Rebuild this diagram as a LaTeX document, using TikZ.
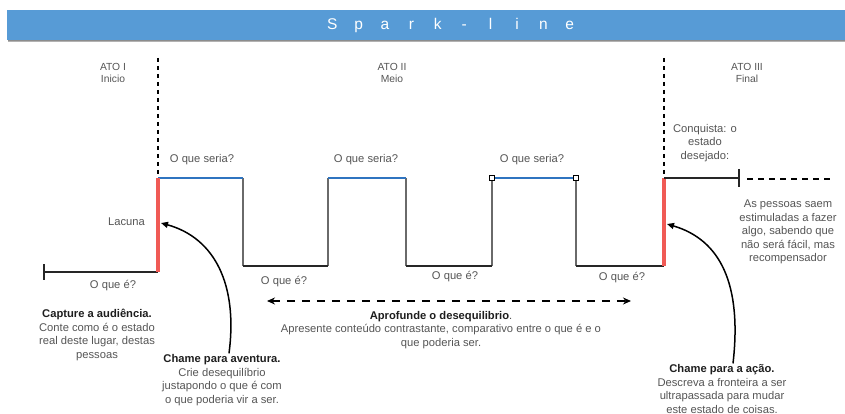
\documentclass[tikz,border=0pt]{standalone}
\usepackage{fontspec}
\setmainfont{Liberation Sans}
\usetikzlibrary{arrows.meta,calc}
\definecolor{banner}{HTML}{579BD6}
\definecolor{txt}{HTML}{555555}
\definecolor{hd}{HTML}{1E1E1E}
\definecolor{bluel}{HTML}{2F74C0}
\definecolor{redl}{HTML}{F05A55}
\definecolor{grayl}{HTML}{6A6A6A}
\newcommand\lt[1]{\makebox[26.4pt]{#1}}
\tikzset{
  lbl/.style={text=txt, font=\fontsize{11.2}{13.5}\selectfont, inner sep=0pt, align=center},
  hdr/.style={text=txt, font=\fontsize{10.3}{11.5}\selectfont, inner sep=0pt, align=center},
  base/.style={line width=1.8pt, black!85},
  riser/.style={line width=1.1pt, grayl},
  topl/.style={line width=2.4pt, bluel},
  gap/.style={line width=3.2pt, redl},
  actline/.style={line width=2.6pt, black, dash pattern=on 4pt off 4pt},
  endtick/.style={line width=1.6pt, black!85},
  callarrow/.style={line width=1.5pt, black, -{Triangle[length=7pt,width=6pt]}},
  handle/.style={draw=black, fill=white, line width=0.7pt, minimum size=5pt, inner sep=0pt},
}
\begin{document}
\begin{tikzpicture}[x=1pt,y=-1pt]
\useasboundingbox (0,0) rectangle (845,414);
% banner
\fill[black!30] (8,12) rectangle (845,42.5);
\fill[black!45] (8,40) rectangle (845,41.5);
\fill[banner] (7,10) rectangle (845,40);
\node[text=white, font=\fontsize{15.5}{15.5}\selectfont, inner sep=0pt] (title) at (451,25)
  {\lt{S}\lt{p}\lt{a}\lt{r}\lt{k}\lt{-}\lt{l}\lt{i}\lt{n}\lt{e}};
% act headers
\node[hdr] (act1) at (113,73) {ATO I\\Inicio};
\node[hdr] (act2) at (392,73) {ATO II\\Meio};
\node[hdr] (act3) at (747,73) {ATO III\\Final};
% coordinates of the line
\coordinate (s0) at (44,272);
\coordinate (g1b) at (158,272);
\coordinate (g1t) at (158,178);
\coordinate (a1) at (243,178);
\coordinate (a2) at (243,266);
\coordinate (b1) at (328,266);
\coordinate (b2) at (328,178);
\coordinate (c1) at (406,178);
\coordinate (c2) at (406,266);
\coordinate (d1) at (492,266);
\coordinate (d2) at (492,178);
\coordinate (e1) at (576,178);
\coordinate (e2) at (576,266);
\coordinate (g2b) at (664,266);
\coordinate (g2t) at (664,178);
\coordinate (f1) at (739,178);
\coordinate (v1t) at (158,58);
\coordinate (v1b) at (158,176);
\coordinate (v2t) at (664,58);
\coordinate (v2b) at (664,176);
% act separators
\draw[actline] (v1t) -- (v1b);
\draw[actline] (v2t) -- (v2b);
% start tick and baseline
\draw[endtick] ($(s0)+(0,-8)$) -- ($(s0)+(0,8)$);
\draw[base] (s0) -- (g1b);
% waveform
\draw[riser] (a1) -- (a2);
\draw[riser] (b1) -- (b2);
\draw[riser] (c1) -- (c2);
\draw[riser] (d1) -- (d2);
\draw[riser] (e1) -- (e2);
\draw[base] (a2) -- (b1);
\draw[base] (c2) -- (d1);
\draw[base] (e2) -- (g2b);
\draw[topl] (g1t) -- (a1);
\draw[topl] (b2) -- (c1);
\draw[topl] (d2) -- (e1);
\draw[gap] (g1b) -- (g1t);
\draw[gap] (g2b) -- (g2t);
\node[handle] (h1) at (d2) {};
\node[handle] (h2) at (e1) {};
% end
\draw[base] (g2t) -- (f1);
\draw[endtick] ($(f1)+(0,-9)$) -- ($(f1)+(0,9)$);
\coordinate (r1) at (747,179);
\coordinate (r2) at (831,179);
\draw[line width=2.2pt, black, dash pattern=on 6pt off 5pt] (r1) -- (r2);
% labels
\node[lbl] (q1) at (202,160) {O que seria?};
\node[lbl] (q2) at (366,160) {O que seria?};
\node[lbl] (q3) at (532,160) {O que seria?};
\node[lbl, anchor=east] (lac) at (145,222) {Lacuna};
\node[lbl] (o1) at (113,286) {O que é?};
\node[lbl] (o2) at (284,282) {O que é?};
\node[lbl] (o3) at (455,277) {O que é?};
\node[lbl] (o4) at (622,278) {O que é?};
\node[lbl] (conq) at (705,143) {Conquista: o\\estado\\desejado:};
\node[lbl] (pess) at (788,232) {As pessoas saem\\estimuladas a fazer\\algo, sabendo que\\não será fácil, mas\\recompensador};
% dashed double arrow
\coordinate (da1) at (267,301);
\coordinate (da2) at (631,301);
\draw[line width=1.5pt, black, dash pattern=on 8pt off 7pt, {Stealth[length=8pt,width=7pt]}-{Stealth[length=8pt,width=7pt]}] (da1) -- (da2);
\node[lbl] (apr) at (441,330) {\textbf{\color{hd}Aprofunde o desequilibrio}.\\Apresente conteúdo contrastante, comparativo entre o que é e o\\que poderia ser.};
\node[lbl] (cap) at (97,335) {\textbf{\color{hd}Capture a audiência.}\\Conte como é o estado\\real deste lugar, destas\\pessoas};
\node[lbl] (cha) at (222,380) {\textbf{\color{hd}Chame para aventura.}\\Crie desequilíbrio\\justapondo o que é com\\o que poderia vir a ser.};
\node[lbl] (acao) at (722,389) {\textbf{\color{hd}Chame para a ação.}\\Descreva a fronteira a ser\\ultrapassada para mudar\\este estado de coisas.};
% call arrows
\coordinate (t1) at (161,223);
\coordinate (t2) at (667,224);
\draw[callarrow] (cha.north) ++(7,-1) .. controls (238,285) and (215,238) .. (t1);
\draw[callarrow] (acao.north) ++(11,-1) .. controls (742,285) and (721,240) .. (t2);
\end{tikzpicture}
\end{document}
